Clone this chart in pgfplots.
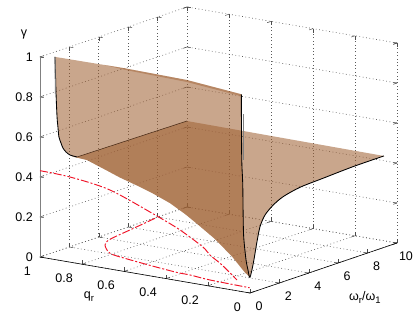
\documentclass[border=0pt]{standalone}
\usepackage{fontspec}
\setmainfont{Liberation Sans}
\newfontfamily\grk{Liberation Sans}
\usepackage{pgfplots}
\pgfplotsset{compat=1.18}
\definecolor{surfc}{RGB}{159,96,50}
\definecolor{griddot}{RGB}{90,90,90}
\definecolor{redc}{RGB}{240,20,40}
\newcommand{\sz}{\fontsize{12.5}{14}\selectfont}
\newcommand{\ssz}{\fontsize{9.5}{10}\selectfont}
\begin{document}
\begin{tikzpicture}
\useasboundingbox (-250pt,-25pt) rectangle (165pt,293pt);
\begin{axis}[
  at={(0pt,0pt)}, anchor=origin,
  x={(14.7pt,5pt)}, y={(-210pt,36pt)}, z={(0pt,200pt)},
  xmin=0,xmax=10,ymin=0,ymax=1,zmin=0,zmax=1,
  xtick={0,2,4,6,8,10}, ytick={0,0.2,0.4,0.6,0.8,1}, ztick={0,0.2,0.4,0.6,0.8,1},
  grid=major,
  major grid style={griddot,line width=0.6pt,dash pattern=on 0.8pt off 2.6pt},
  axis line style={draw=none},
  clip=false,
  tick style={black!70,line width=0.5pt},
  major tick length=4pt,
  tick label style={font=\sz},
  /pgf/number format/assume math mode=true,
  xticklabel style={anchor=center,xshift=9pt,yshift=-13.5pt,inner sep=0pt},
  yticklabel style={anchor=east,xshift=-9pt,yshift=-14pt,inner sep=0pt},
  zticklabel style={anchor=east,xshift=-7pt,yshift=0pt,inner sep=0pt},
  xlabel={{\grk ω}\raisebox{-3pt}{\ssz r}/{\grk ω}\raisebox{-3pt}{\ssz 1}},
  ylabel={q\raisebox{-3pt}{\ssz r}},
  zlabel={{\grk γ}},
  every axis x label/.style={at={(axis cs:1.96,-0.41,0)},anchor=center,font=\sz},
  every axis y label/.style={at={(axis cs:-4.2,0.4725,0)},anchor=center,font=\sz},
  every axis z label/.style={at={(axis cs:0,1.076,1.097)},anchor=center,font=\sz},
]
% axis lines
\addplot3[black,line width=0.6pt,forget plot] coordinates {(0,1,0)(0,0,0)(10,0,0)};
\addplot3[gray,line width=0.8pt,forget plot] coordinates {(0,1,0)(0,1,1)};
% projection of the minimum on the wall omega = 0
\addplot3[redc,line width=0.95pt,smooth,dash pattern=on 8pt off 2pt on 2pt off 2pt,forget plot] coordinates {
 (0,1,0.4315)(0,0.857,0.4257)(0,0.667,0.395)(0,0.443,0.305)(0,0.333,0.255)(0,0.225,0.19)(0,0.19,0.155)(0,0.133,0.116)(0,0.062,0.054)};
% projection on the floor
\addplot3[redc,line width=0.95pt,smooth,dash pattern=on 8pt off 2pt on 2pt off 2pt,forget plot] coordinates {
 (7.77,0.996,0)(5.82,0.969,0)(3.95,0.943,0)(3.08,0.906,0)(2.09,0.813,0)(1.76,0.719,0)(1.33,0.546,0)(1.06,0.417,0)(1.03,0.358,0)(0.82,0.248,0)(0.69,0.05,0)};
% floor sheet
\addplot3[fill=surfc,fill opacity=0.56,draw=none,forget plot] coordinates {
 (2.2,1,0.4475)(2.092,0.923,0.4465)(1.973,0.838,0.4225)(1.849,0.749,0.3965)(1.723,0.659,0.376)(1.604,0.574,0.354)(1.479,0.485,0.3255)(1.367,0.405,0.288)(1.272,0.337,0.25)(1.146,0.247,0.197)(1.02,0.157,0.129)(0.924,0.0887,0.0635)(0.887,0.0623,0.045)
 (1.116,0.0623,0.11)(1.347,0.0623,0.204)(1.571,0.0623,0.281)(1.912,0.0623,0.331)(2.476,0.0623,0.367)(3.156,0.0623,0.392)(4.293,0.0623,0.41)(5.857,0.0623,0.416)(7.898,0.0623,0.423)(10,0.0623,0.424)
 (10,1,0.43)(2.52,1,0.437)} -- cycle;
% wall sheet
\addplot3[fill=surfc,fill opacity=0.56,draw=none,forget plot] coordinates {
 (1.02,1,0.975)(0.735,0.647,0.9885)(0.5,0.335,0.992)(0.3,0.0623,0.975)
 (0.327,0.0623,0.656)(0.395,0.0623,0.529)(0.42,0.0623,0.39)(0.46,0.0623,0.26)(0.62,0.0623,0.139)(0.755,0.0623,0.085)(0.887,0.0623,0.045)
 (0.924,0.0887,0.0635)(1.02,0.157,0.129)(1.146,0.247,0.197)(1.272,0.337,0.25)(1.367,0.405,0.288)(1.479,0.485,0.3255)(1.604,0.574,0.354)(1.723,0.659,0.376)(1.849,0.749,0.3965)(1.973,0.838,0.4225)(2.092,0.923,0.4465)(2.2,1,0.4475)
 (2.04,1,0.459)(1.77,1,0.481)(1.56,1,0.506)(1.43,1,0.534)(1.29,1,0.5675)(1.22,1,0.62)(1.16,1,0.671)(1.09,1,0.793)} -- cycle;
% fold along the top edge
\addplot3[fill=surfc,fill opacity=0.45,draw=none,forget plot] coordinates {
 (0.81,0.75,0.985)(0.735,0.647,0.9885)(0.5,0.335,0.992)(0.3,0.0623,0.975)(0.3,0.0623,0.965)(0.5,0.335,0.982)(0.735,0.647,0.981)} -- cycle;
% edges
\addplot3[black,line width=0.85pt,smooth,forget plot] coordinates {
 (1.02,1,0.975)(1.09,1,0.793)(1.16,1,0.671)(1.22,1,0.62)(1.29,1,0.5675)(1.43,1,0.534)(1.56,1,0.506)(1.77,1,0.481)(2.04,1,0.459)(2.52,1,0.437)};
\addplot3[black!55!surfc,line width=0.55pt,forget plot] coordinates {(2.52,1,0.437)(10,1,0.43)};
\addplot3[black,line width=0.85pt,smooth,forget plot] coordinates {
 (0.3,0.0623,0.975)(0.327,0.0623,0.656)(0.395,0.0623,0.529)(0.42,0.0623,0.39)(0.46,0.0623,0.26)(0.62,0.0623,0.139)(0.755,0.0623,0.085)(0.887,0.0623,0.045)
 (1.116,0.0623,0.11)(1.347,0.0623,0.204)(1.571,0.0623,0.281)(1.912,0.0623,0.331)(2.476,0.0623,0.367)(3.156,0.0623,0.392)(4.293,0.0623,0.41)(5.857,0.0623,0.416)(7.898,0.0623,0.423)(10,0.0623,0.424)};
\addplot3[gray,line width=1pt,forget plot] coordinates {(1.02,1,0.975)(1.05,1,0.79)};
\addplot3[gray,line width=1pt,forget plot] coordinates {(0.42,0.0623,0.873)(0.42,0.0623,0.643)};
\end{axis}
\end{tikzpicture}
\end{document}
